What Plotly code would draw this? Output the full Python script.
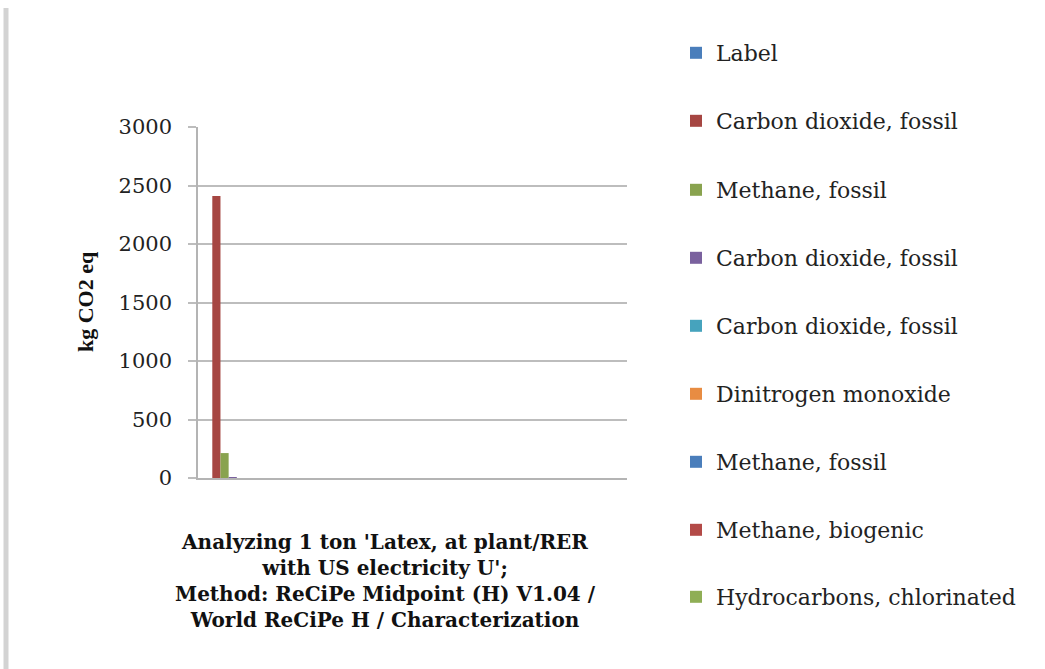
import plotly.graph_objects as go

# ---- data ----
categories = ["1", "2", "3", "4", "5"]
series_names = [
    "Label",
    "Carbon dioxide, fossil",
    "Methane, fossil",
    "Carbon dioxide, fossil",
    "Carbon dioxide, fossil",
    "Dinitrogen monoxide",
    "Methane, fossil",
    "Methane, biogenic",
    "Hydrocarbons, chlorinated",
]
label_vals = [0, 0, 0, 0, 0]
co2_fossil_vals = [2410, 0, 0, 0, 0]
ch4_fossil_vals = [213, 0, 0, 0, 0]
co2_fossil_b_vals = [4, 0, 0, 0, 0]
co2_fossil_c_vals = [0, 0, 0, 0, 0]
n2o_vals = [0, 0, 0, 0, 0]
ch4_fossil_b_vals = [0, 0, 0, 0, 0]
ch4_biogenic_vals = [0, 0, 0, 0, 0]
hydrocarbons_vals = [0, 0, 0, 0, 0]
series_values = [label_vals, co2_fossil_vals, ch4_fossil_vals, co2_fossil_b_vals,
                 co2_fossil_c_vals, n2o_vals, ch4_fossil_b_vals, ch4_biogenic_vals,
                 hydrocarbons_vals]
colors = ["#4A7EBB", "#A64642", "#89A34F", "#7A619E", "#46A3BD",
          "#E88C42", "#4A7EBB", "#B34A47", "#8FAE55"]
y_ticks = [0, 500, 1000, 1500, 2000, 2500, 3000]

W, H = 1045, 669
L, R, T, B = 198, 627, 127, 478  # plot area in pixels

def px_x(x):
    return (x - L) / (R - L)

def px_y(y):
    return (B - y) / (B - T)

serif_h = "DejaVu Serif"

# legend rows (swatch centre, in pixels from top)
legend_rows_px = [53, 121, 190, 258, 326, 394, 462, 530, 597]

fig = go.Figure()
legend_layouts = {}
for i, (name, vals, col) in enumerate(zip(series_names, series_values, colors)):
    lname = "legend" if i == 0 else f"legend{i + 1}"
    fig.add_trace(go.Bar(
        x=categories, y=vals, name=name, marker_color=col,
        marker_line_width=0, legend=lname,
    ))
    legend_layouts[lname] = dict(
        xref="container", yref="container",
        x=676 / W, y=1 - (legend_rows_px[i] - 21) / H,
        xanchor="left", yanchor="top",
        font=dict(family=serif_h, size=22, color="#222"),
        bgcolor="rgba(0,0,0,0)", itemwidth=30,
    )

fig.update_layout(
    width=W, height=H,
    margin=dict(l=L, r=W - R, t=T, b=H - B, pad=0),
    paper_bgcolor="white", plot_bgcolor="white",
    barmode="group", bargap=0.143, bargroupgap=0,
    showlegend=True,
    xaxis=dict(
        type="category", showticklabels=False, ticks="",
        showgrid=False, showline=True, linecolor="#B4B4B4", linewidth=1.5,
        zeroline=False,
    ),
    yaxis=dict(
        range=[0, 3000], tickvals=y_ticks, ticktext=[str(v) for v in y_ticks],
        showgrid=True, gridcolor="#BDBDBD", gridwidth=1.5,
        showline=True, linecolor="#B4B4B4", linewidth=1.5,
        ticks="outside", ticklen=8, tickcolor="#BDBDBD", tickwidth=1.5,
        ticklabelstandoff=12,
        tickfont=dict(family=serif_h, size=21, color="#222"),
        zeroline=False,
    ),
    font=dict(family=serif_h),
    **legend_layouts,
)

# y-axis title
fig.add_annotation(
    xref="paper", yref="paper", x=px_x(85), y=px_y(301),
    xanchor="center", yanchor="middle", showarrow=False, textangle=-90,
    text="<b>kg CO2 eq</b>",
    font=dict(family="Liberation Serif", size=22, color="#111"),
)

# x-axis title as centred multi-line annotation
fig.add_annotation(
    xref="paper", yref="paper", x=px_x(385), y=px_y(581),
    xanchor="center", yanchor="middle", showarrow=False, align="center",
    text="<b>Analyzing 1 ton 'Latex, at plant/RER<br>with US electricity U';<br>"
         "Method: ReCiPe Midpoint (H) V1.04 /<br>World ReCiPe H / Characterization</b>",
    font=dict(family=serif_h, size=20, color="#111"),
)

# left page border band
fig.add_shape(type="rect", xref="paper", yref="paper",
              x0=px_x(3.5), x1=px_x(8.5), y0=px_y(669), y1=px_y(8),
              fillcolor="#D3D3D3", line=dict(width=0), layer="below")

fig.write_html("out.html")
